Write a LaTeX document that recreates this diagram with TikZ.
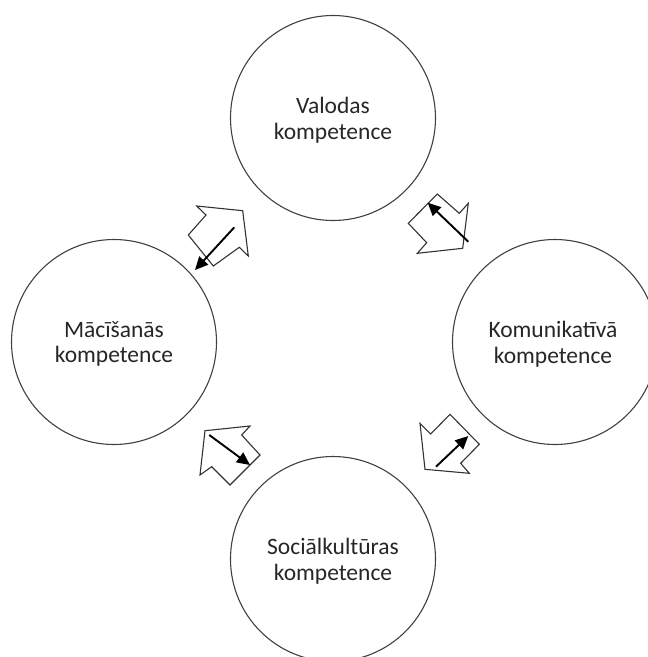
\documentclass[tikz,border=0pt]{standalone}
\usepackage{fontspec}
\setmainfont{Carlito}
\usetikzlibrary{arrows.meta}
\definecolor{ringgray}{HTML}{404040}
\definecolor{textgray}{HTML}{262626}
\definecolor{outlinegray}{HTML}{333333}
\begin{document}
\begin{tikzpicture}[x=1pt,y=-1pt,
  comp/.style={circle,draw=ringgray,line width=1.1pt,minimum size=205pt,inner sep=0pt},
  comptext/.style={align=center,inner sep=0pt,text=textgray,
    font=\fontsize{23.5}{25.5}\selectfont},
  blockarrow/.style={draw=outlinegray,line width=1.1pt,fill=white,line join=miter},
  flow/.style={line width=1.9pt,-{Triangle[length=13pt,width=12pt]}}
]
\clip (0,0) rectangle (648,657);

% the four competences
\node[comp] (val) at (333,118) {};
\node[comp] (mac) at (114,342) {};
\node[comp] (kom) at (555,342) {};
\node[comp] (soc) at (333,559) {};

\node[comptext] (valt) at ([yshift=-2pt]val.center) {Valodas\\kompetence};
\node[comptext] (mact) at ([yshift=-2pt]mac.center) {Mācīšanās\\kompetence};
\node[comptext] (komt) at ([xshift=-2pt,yshift=-2pt]kom.center) {Komunikatīvā\\kompetence};
\node[comptext] (soct) at ([yshift=-2pt]soc.center) {Sociālkultūras\\kompetence};

% block arrows between the circles
\draw[blockarrow] (242.7,210.7) -- (248.3,256) -- (239.3,247.3) -- (213.3,266)
  -- (188.3,235) -- (206,215) -- (196.7,206) -- cycle;
\draw[blockarrow] (462.7,248.3) -- (468.3,203.3) -- (459.3,213.3) -- (437.3,194)
  -- (408.3,223.3) -- (426.7,242.7) -- (417.3,253.3) -- cycle;
\draw[blockarrow] (425,469.3) -- (420,423.3) -- (430.7,434) -- (450,414.3)
  -- (479.3,444.3) -- (460.7,463.3) -- (469.3,473.3) -- cycle;
\draw[blockarrow] (205,430.7) -- (250,426) -- (241.7,435) -- (260,455)
  -- (230,485) -- (211.7,466.7) -- (200,475) -- cycle;

% thin arrows inside them
\coordinate (a1s) at (234.3,227.3);
\coordinate (a1e) at (195,270);
\coordinate (a2s) at (468.3,241.7);
\coordinate (a2e) at (427.7,202.7);
\coordinate (a3s) at (436,466.7);
\coordinate (a3e) at (468.3,436);
\coordinate (a4s) at (209.3,435);
\coordinate (a4e) at (250,465);
\draw[flow] (a1s) -- (a1e);
\draw[flow] (a2s) -- (a2e);
\draw[flow] (a3s) -- (a3e);
\draw[flow] (a4s) -- (a4e);
\end{tikzpicture}
\end{document}
